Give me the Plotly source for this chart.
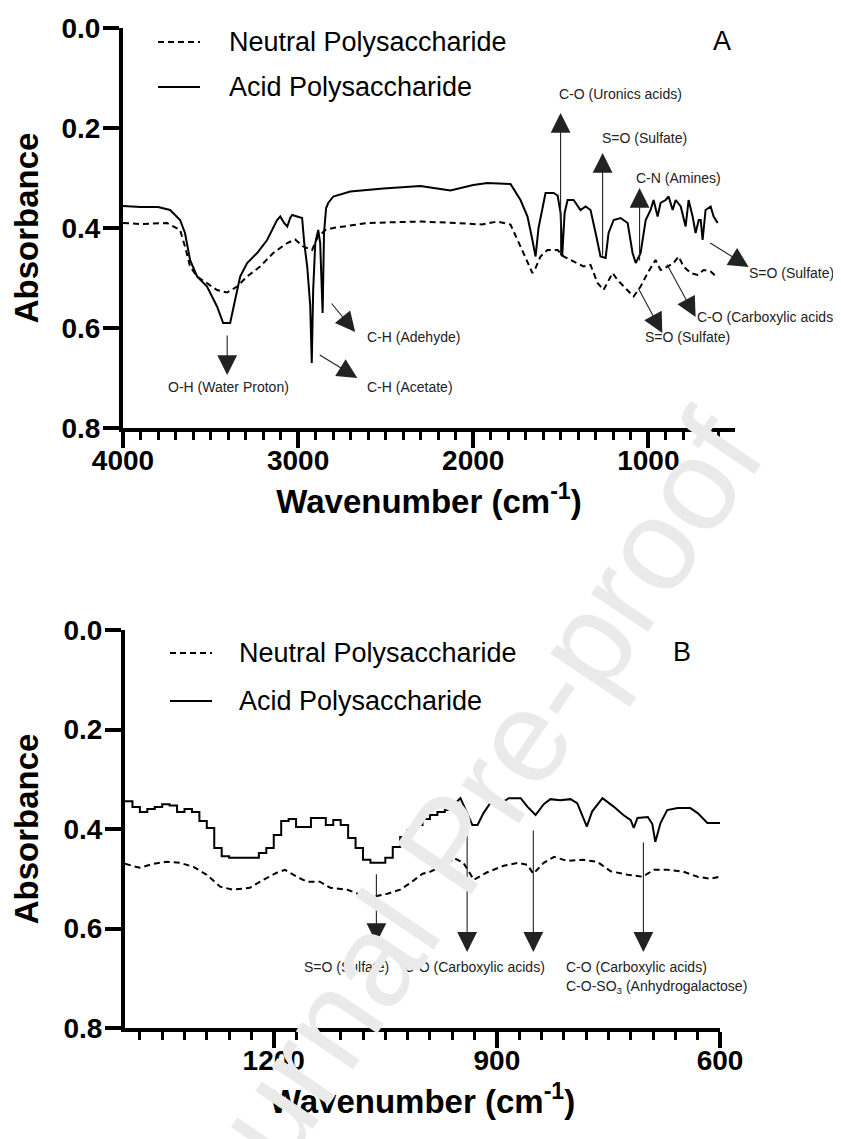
import plotly.graph_objects as go

# ---------------- data: panel A (full FTIR range) ----------------
acid_a_wn = [4000, 3900, 3800, 3731, 3674, 3646, 3617, 3577, 3520, 3463, 3428, 3388, 3360,
             3331, 3291, 3234, 3177, 3120, 3102, 3080, 3062, 3045, 3034, 3005, 2977, 2965,
             2948, 2931, 2922, 2914, 2902, 2885, 2874, 2860, 2852, 2840, 2828, 2799, 2702,
             2513, 2302, 2130, 2000, 1919, 1787, 1730, 1690, 1662, 1644, 1627, 1604, 1587,
             1541, 1518, 1501, 1492, 1478, 1461, 1427, 1387, 1358, 1330, 1301, 1273, 1244,
             1227, 1198, 1158, 1118, 1090, 1072, 1044, 1015, 987, 970, 947, 930, 901, 884,
             861, 844, 815, 787, 770, 747, 730, 712, 701, 690, 673, 644, 627, 604]
acid_a_abs = [0.356, 0.358, 0.358, 0.364, 0.384, 0.410, 0.464, 0.497, 0.517, 0.557, 0.590,
              0.590, 0.544, 0.497, 0.470, 0.450, 0.424, 0.384, 0.377, 0.390, 0.397, 0.380,
              0.374, 0.377, 0.380, 0.430, 0.477, 0.554, 0.670, 0.524, 0.430, 0.404, 0.430,
              0.570, 0.410, 0.360, 0.350, 0.337, 0.327, 0.321, 0.316, 0.325, 0.314, 0.310,
              0.312, 0.344, 0.377, 0.424, 0.457, 0.400, 0.357, 0.330, 0.330, 0.335, 0.370,
              0.457, 0.370, 0.344, 0.344, 0.364, 0.357, 0.364, 0.410, 0.457, 0.460, 0.410,
              0.384, 0.380, 0.390, 0.450, 0.470, 0.450, 0.384, 0.364, 0.344, 0.377, 0.350,
              0.344, 0.337, 0.364, 0.344, 0.357, 0.397, 0.344, 0.377, 0.410, 0.384, 0.384,
              0.424, 0.364, 0.357, 0.377, 0.390]

neutral_a_wn = [4000, 3900, 3749, 3674, 3646, 3617, 3577, 3520, 3463, 3406, 3348, 3291, 3217,
                3142, 3062, 3017, 2971, 2920, 2891, 2845, 2799, 2605, 2302, 2100, 1950, 1862,
                1787, 1730, 1690, 1662, 1644, 1616, 1576, 1518, 1484, 1427, 1370, 1330, 1290,
                1256, 1204, 1176, 1141, 1084, 1044, 1004, 959, 930, 890, 856, 827, 799, 759,
                719, 684, 644, 604]
neutral_a_abs = [0.390, 0.392, 0.390, 0.404, 0.437, 0.477, 0.497, 0.510, 0.524, 0.529, 0.517,
                 0.497, 0.477, 0.450, 0.430, 0.423, 0.437, 0.444, 0.420, 0.404, 0.400, 0.390,
                 0.387, 0.390, 0.393, 0.387, 0.393, 0.437, 0.470, 0.490, 0.480, 0.457, 0.444,
                 0.444, 0.457, 0.467, 0.477, 0.474, 0.510, 0.524, 0.490, 0.504, 0.517, 0.537,
                 0.517, 0.490, 0.464, 0.484, 0.477, 0.470, 0.457, 0.477, 0.490, 0.494, 0.484,
                 0.487, 0.500]

# ---------------- data: panel B (fingerprint region) ----------------
acid_b_step_wn = [1400, 1390, 1380, 1370, 1360, 1350, 1340, 1330, 1320, 1310, 1300, 1290,
                  1280, 1270, 1260, 1250, 1240, 1230, 1220, 1210, 1200, 1190, 1180, 1170,
                  1160, 1150, 1140, 1130, 1120, 1110, 1100, 1090, 1080, 1070, 1060, 1050,
                  1040, 1030, 1020, 1010, 1000, 990, 980, 970, 960]
acid_b_step_abs = [0.344, 0.356, 0.366, 0.360, 0.356, 0.350, 0.353, 0.366, 0.360, 0.366,
                   0.384, 0.398, 0.438, 0.455, 0.458, 0.458, 0.458, 0.458, 0.448, 0.438,
                   0.412, 0.384, 0.380, 0.396, 0.396, 0.378, 0.378, 0.392, 0.382, 0.392,
                   0.418, 0.438, 0.462, 0.468, 0.468, 0.458, 0.436, 0.416, 0.402, 0.392,
                   0.380, 0.372, 0.366, 0.362, 0.354]

acid_b_wn = [960, 949, 940, 933, 926, 918, 909, 891, 884, 868, 859, 848, 837, 828, 815, 801,
             792, 784, 779, 772, 758, 743, 730, 720, 716, 711, 697, 691, 687, 680, 671, 657,
             640, 630, 617, 600]
acid_b_abs = [0.354, 0.338, 0.368, 0.392, 0.392, 0.368, 0.348, 0.345, 0.338, 0.338, 0.355,
              0.372, 0.350, 0.340, 0.342, 0.340, 0.348, 0.376, 0.395, 0.365, 0.338, 0.355,
              0.372, 0.382, 0.398, 0.378, 0.376, 0.390, 0.426, 0.388, 0.362, 0.358, 0.358,
              0.368, 0.388, 0.388]

neutral_b_wn = [1400, 1380, 1362, 1344, 1326, 1308, 1290, 1272, 1255, 1232, 1214, 1196, 1185,
                1169, 1155, 1138, 1124, 1101, 1084, 1066, 1047, 1030, 1016, 1000, 990, 976,
                967, 958, 945, 931, 913, 891, 872, 859, 851, 837, 823, 806, 784, 765, 747,
                724, 704, 689, 671, 649, 630, 613, 600]
neutral_b_abs = [0.470, 0.478, 0.470, 0.466, 0.468, 0.476, 0.492, 0.516, 0.522, 0.518, 0.502,
                 0.488, 0.482, 0.496, 0.506, 0.506, 0.518, 0.522, 0.532, 0.536, 0.530, 0.522,
                 0.508, 0.490, 0.486, 0.476, 0.470, 0.458, 0.468, 0.502, 0.487, 0.474, 0.468,
                 0.472, 0.490, 0.468, 0.456, 0.464, 0.462, 0.466, 0.485, 0.492, 0.496, 0.482,
                 0.482, 0.486, 0.496, 0.500, 0.496]

legend_labels = ["Neutral Polysaccharide", "Acid Polysaccharide"]
y_ticks = [0.0, 0.2, 0.4, 0.6, 0.8]
y_ticktext = ["0.0", "0.2", "0.4", "0.6", "0.8"]

# the page body adds an 8 px margin, so the figure is sized to fill the rest of the window
OFF = 8
W, H = 841 - OFF, 1139 - OFF
FONT = "Arial, Liberation Sans, sans-serif"
INK = "black"
DASH = "6px,4px"


def fx(p):
    """screen x pixel -> paper fraction"""
    return (p - OFF) / W


def fy(p):
    """screen y pixel -> paper fraction"""
    return 1 - (p - OFF) / H


fig = go.Figure()

fig.add_trace(go.Scatter(x=neutral_a_wn, y=neutral_a_abs, mode="lines", name=legend_labels[0],
                         line=dict(color=INK, width=2, dash=DASH), xaxis="x", yaxis="y",
                         showlegend=False))
fig.add_trace(go.Scatter(x=acid_a_wn, y=acid_a_abs, mode="lines", name=legend_labels[1],
                         line=dict(color=INK, width=2), xaxis="x", yaxis="y", showlegend=False))
fig.add_trace(go.Scatter(x=neutral_b_wn, y=neutral_b_abs, mode="lines", name=legend_labels[0],
                         line=dict(color=INK, width=2, dash=DASH), xaxis="x2", yaxis="y2",
                         showlegend=False))
fig.add_trace(go.Scatter(x=acid_b_step_wn, y=acid_b_step_abs, mode="lines", name=legend_labels[1],
                         line=dict(color=INK, width=2, shape="hv"), xaxis="x2", yaxis="y2",
                         showlegend=False))
fig.add_trace(go.Scatter(x=acid_b_wn, y=acid_b_abs, mode="lines", name=legend_labels[1],
                         line=dict(color=INK, width=2), xaxis="x2", yaxis="y2",
                         showlegend=False))

tickfont = dict(family=FONT, size=28, color=INK, weight="bold")
titlefont = dict(family=FONT, size=33, color=INK)

common_axis = dict(showline=True, linewidth=4, linecolor=INK, ticks="outside", tickwidth=4,
                   tickcolor=INK, showgrid=False, zeroline=False, tickfont=tickfont,
                   automargin=False)

fig.update_layout(
    width=W, height=H, margin=dict(l=0, r=0, t=0, b=0),
    paper_bgcolor="white", plot_bgcolor="white", showlegend=False,
    xaxis=dict(domain=[fx(123), fx(735)], anchor="y", range=[4000, 505],
               tickmode="linear", tick0=0, dtick=1000, ticklen=16, ticklabelstandoff=-12,
               minor=dict(tickmode="linear", tick0=0, dtick=100, ticks="outside", ticklen=8,
                          tickwidth=3, tickcolor=INK, showgrid=False),
               title=dict(text="<b>Wavenumber (cm<sup>-1</sup>)</b>", font=titlefont, standoff=16),
               **common_axis),
    yaxis=dict(domain=[fy(428), fy(28)], anchor="x", range=[0.8, 0],
               tickmode="array", tickvals=y_ticks, ticktext=y_ticktext, ticklen=16,
               ticklabelstandoff=-3,
               title=dict(text="<b>Absorbance</b>", font=titlefont, standoff=16),
               **common_axis),
    xaxis2=dict(domain=[fx(125), fx(720)], anchor="y2", range=[1400, 600],
                tickmode="linear", tick0=0, dtick=300, ticklen=16, ticklabelstandoff=-12,
                minor=dict(tickmode="linear", tick0=0, dtick=30, ticks="outside", ticklen=8,
                           tickwidth=3, tickcolor=INK, showgrid=False),
                title=dict(text="<b>Wavenumber (cm<sup>-1</sup>)</b>", font=titlefont, standoff=16),
                **common_axis),
    yaxis2=dict(domain=[fy(1028), fy(630)], anchor="x2", range=[0.8, 0],
                tickmode="array", tickvals=y_ticks, ticktext=y_ticktext, ticklen=16,
                ticklabelstandoff=-3,
                title=dict(text="<b>Absorbance</b>", font=titlefont, standoff=16),
                **common_axis),
)

# ---------------- manual legends & panel letters ----------------
shapes = []
annotations = []
for (x0, x1, y_dash, y_solid, x_text, letter, lx, ly) in [
        (158, 200, 42, 87, 227, "A", 722, 41),
        (170, 212, 653, 701, 237, "B", 682, 652)]:
    shapes.append(dict(type="line", xref="paper", yref="paper", x0=fx(x0), x1=fx(x1),
                       y0=fy(y_dash), y1=fy(y_dash), line=dict(color=INK, width=2, dash=DASH)))
    shapes.append(dict(type="line", xref="paper", yref="paper", x0=fx(x0), x1=fx(x1),
                       y0=fy(y_solid), y1=fy(y_solid), line=dict(color=INK, width=2)))
    for lab, yy in zip(legend_labels, [y_dash, y_solid]):
        annotations.append(dict(text=lab, xref="paper", yref="paper", x=fx(x_text), y=fy(yy),
                                xanchor="left", yanchor="middle", showarrow=False,
                                font=dict(family=FONT, size=27, color=INK)))
    annotations.append(dict(text=letter, xref="paper", yref="paper", x=fx(lx), y=fy(ly),
                            xanchor="center", yanchor="middle", showarrow=False,
                            font=dict(family=FONT, size=27, color=INK)))

fig.update_layout(shapes=shapes)

# ---------------- peak assignments ----------------
LBL = dict(family=FONT, size=14, color="#222")
ARROW = dict(showarrow=True, arrowhead=2, arrowsize=3.6, arrowwidth=1.1, arrowcolor="#222",
             standoff=0, text="")


def arrow(xr, yr, head, tail):
    d = dict(xref=xr, yref=yr, axref=xr, ayref=yr, x=head[0], y=head[1], ax=tail[0], ay=tail[1])
    d.update(ARROW)
    return d


def label(xr, yr, x, y, text, anchor="center"):
    return dict(xref=xr, yref=yr, x=x, y=y, text=text, showarrow=False, xanchor=anchor,
                yanchor="middle", font=LBL)


# panel A arrows: (head, tail) in (wavenumber, absorbance)
arrows_a = [((3405, 0.694), (3405, 0.612)),
            ((2674, 0.608), (2816, 0.548)),
            ((2662, 0.700), (2885, 0.652)),
            ((1501, 0.170), (1501, 0.458)),
            ((1261, 0.250), (1261, 0.458)),
            ((1050, 0.320), (1050, 0.468)),
            ((427, 0.478), (655, 0.428)),
            ((730, 0.578), (898, 0.470)),
            ((920, 0.610), (1061, 0.518))]
for h, t in arrows_a:
    annotations.append(arrow("x", "y", h, t))

annotations += [
    label("x", "y", 3400, 0.718, "O-H (Water Proton)"),
    label("x", "y", 2616, 0.618, "C-H (Adehyde)", "left"),
    label("x", "y", 2616, 0.718, "C-H (Acetate)", "left"),
    label("x", "y", 1158, 0.132, "C-O (Uronics acids)"),
    label("x", "y", 1021, 0.220, "S=O (Sulfate)"),
    label("x", "y", 827, 0.300, "C-N (Amines)"),
    label("paper", "paper", fx(747), fy(273), "S=O (Sulfate)", "left"),
    label("x", "y", 735, 0.578, "C-O (Carboxylic acids)", "left"),
    label("x", "y", 1033, 0.618, "S=O (Sulfate)", "left"),
]

# panel B arrows
arrows_b = [((1062, 0.629), (1062, 0.488)),
            ((940, 0.647), (940, 0.400)),
            ((851, 0.647), (851, 0.400)),
            ((703, 0.647), (703, 0.424))]
for h, t in arrows_b:
    annotations.append(arrow("x2", "y2", h, t))

annotations += [
    label("x2", "y2", 1162, 0.677, "S=O (Sulfate)", "left"),
    label("x2", "y2", 1027, 0.677, "C-O (Carboxylic acids)", "left"),
    label("x2", "y2", 810, 0.677, "C-O (Carboxylic acids)", "left"),
    label("x2", "y2", 810, 0.717, "C-O-SO<sub>3</sub> (Anhydrogalactose)", "left"),
]

# watermark
annotations.append(dict(text="Journal Pre-proof", xref="paper", yref="paper", x=fx(450),
                        y=fy(845), xanchor="center", yanchor="middle", showarrow=False,
                        textangle=-56, font=dict(family=FONT, size=130, color="#eaeaea")))

fig.update_layout(annotations=annotations)

fig.write_html("out.html")
